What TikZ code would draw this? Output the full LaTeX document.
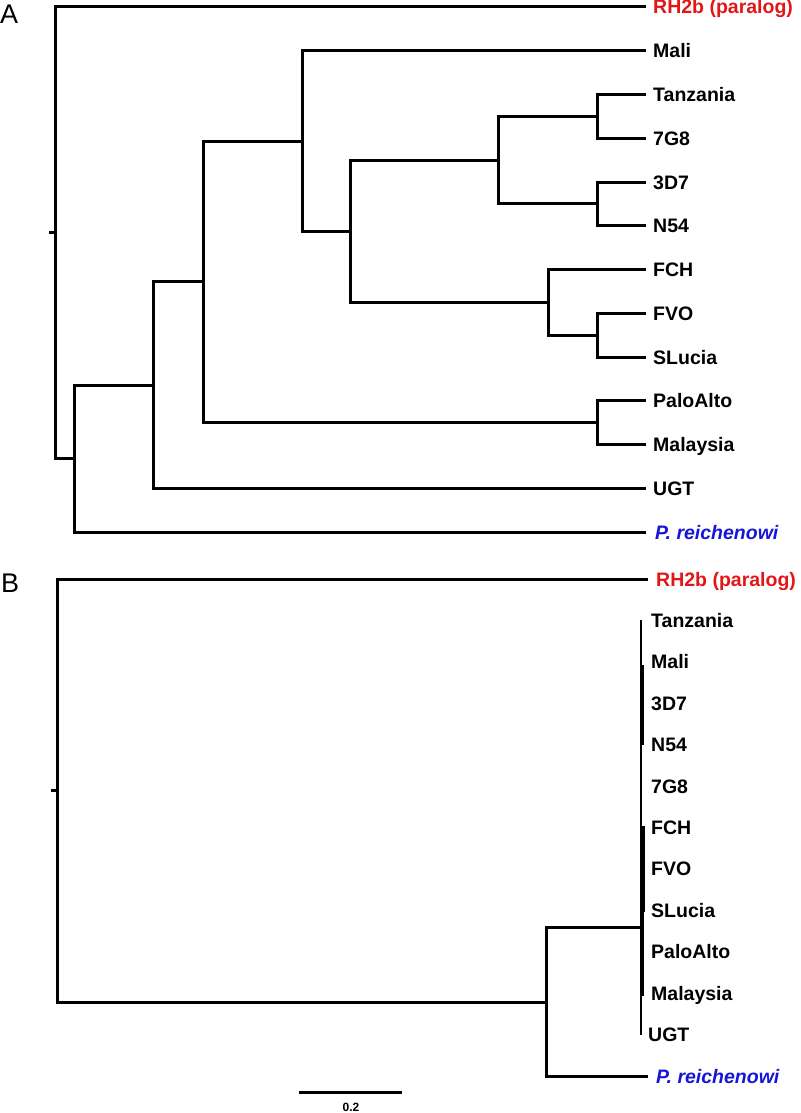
\documentclass[tikz,border=0pt]{standalone}
\usepackage{fontspec}
\setmainfont{Liberation Sans}
\definecolor{labred}{RGB}{226,22,22}
\definecolor{labblue}{RGB}{22,22,214}
\begin{document}
\begin{tikzpicture}[x=1pt,y=-1pt,
  br/.style={line width=3pt},
  leaf/.style={anchor=base west,inner sep=0pt,font=\bfseries\fontsize{19.5}{20}\selectfont},
  panel/.style={anchor=base west,inner sep=0pt,font=\fontsize{27}{28}\selectfont}]
\useasboundingbox (0,0) rectangle (800,1113);
% ---------------- Tree A ----------------
\node[panel] (labA) at (0,24) {A};
\foreach \n/\y in {rh/7, mali/50.75, tz/94.5, g78/138.25, d37/182, n54/225.75, fch/269.5, fvo/313.25, sl/357, pa/400.75, my/444.5, ugt/488.25, pr/532}
  {\coordinate (A\n) at (646,\y);}
\coordinate (a1) at (597,116.4);
\coordinate (a2) at (597,203.9);
\coordinate (a3) at (498,160.1);
\coordinate (a4) at (597,335.1);
\coordinate (a5) at (548,302.3);
\coordinate (a6) at (350,231.2);
\coordinate (a7) at (302,141);
\coordinate (a8) at (597,422.6);
\coordinate (a9) at (203,281.8);
\coordinate (a10) at (153,385);
\coordinate (a11) at (74,458.5);
\coordinate (ar) at (55,232.75);
\coordinate (at) at (49,232.75);
\draw[br] (a1) |- (Atz); \draw[br] (a1) |- (Ag78);
\draw[br] (a2) |- (Ad37); \draw[br] (a2) |- (An54);
\draw[br] (a3) |- (a1); \draw[br] (a3) |- (a2);
\draw[br] (a4) |- (Afvo); \draw[br] (a4) |- (Asl);
\draw[br] (a5) |- (Afch); \draw[br] (a5) |- (a4);
\draw[br] (a6) |- (a3); \draw[br] (a6) |- (a5);
\draw[br] (a7) |- (Amali); \draw[br] (a7) |- (a6);
\draw[br] (a8) |- (Apa); \draw[br] (a8) |- (Amy);
\draw[br] (a9) |- (a7); \draw[br] (a9) |- (a8);
\draw[br] (a10) |- (a9); \draw[br] (a10) |- (Augt);
\draw[br] (a11) |- (a10); \draw[br] (a11) |- (Apr);
\draw[br] (ar) |- (Arh); \draw[br] (ar) |- (a11);
\draw[br] (at) -- (ar);
\node[leaf,text=labred] (tArh) at (653,14) {RH2b (paralog)};
\foreach \n/\t/\y in {mali/Mali/50.75, tz/Tanzania/94.5, g78/7G8/138.25, d37/3D7/182, n54/N54/225.75, fch/FCH/269.5, fvo/FVO/313.25, sl/SLucia/357, pa/PaloAlto/400.75, my/Malaysia/444.5, ugt/UGT/488.25}
  {\node[leaf] (tA\n) at (653,\y+7) {\t};}
\node[leaf,text=labblue] (tApr) at (655,539) {\itshape P. reichenowi};
% ---------------- Tree B ----------------
\node[panel] (labB) at (1,592) {B};
\coordinate (Brh) at (648,579);
\coordinate (Bpr) at (648,1076);
\coordinate (bc) at (641,927);
\coordinate (bctop) at (641,620.4);
\coordinate (bcbot) at (641,1034.8);
\coordinate (bn) at (546,1002);
\coordinate (br0) at (57,790.5);
\coordinate (bt) at (51,790.5);
\draw[br] (bn) |- (bc); \draw[br] (bn) |- (Bpr);
\draw[br] (br0) |- (Brh); \draw[br] (br0) |- (bn);
\draw[br] (bt) -- (br0);
\draw[line width=2.2pt] (bctop) -- (bcbot);
\coordinate (s1a) at (642.6,665); \coordinate (s1b) at (642.6,745);
\coordinate (s2a) at (642.8,826); \coordinate (s2b) at (642.8,996);
\coordinate (s3a) at (643.6,826); \coordinate (s3b) at (643.6,912);
\draw[line width=2.2pt] (s1a) -- (s1b);
\draw[line width=2.4pt] (s2a) -- (s2b);
\draw[line width=2.2pt] (s3a) -- (s3b);
\node[leaf,text=labred] (tBrh) at (656,586) {RH2b (paralog)};
\foreach \t/\i in {Tanzania/1, Mali/2, 3D7/3, N54/4, 7G8/5, FCH/6, FVO/7, SLucia/8, PaloAlto/9, Malaysia/10}
  {\node[leaf] (tB\i) at (651,579+41.42*\i+7) {\t};}
\node[leaf] (tB11) at (648,579+41.42*11+7) {UGT};
\node[leaf,text=labblue] (tBpr) at (656,1083) {\itshape P. reichenowi};
% scale bar
\coordinate (sb1) at (299,1092);
\coordinate (sb2) at (402,1092);
\draw[line width=3pt] (sb1) -- (sb2);
\node[font=\bfseries\fontsize{12}{13}\selectfont,inner sep=0pt] (sbl) at (351,1107) {0.2};
\end{tikzpicture}
\end{document}
